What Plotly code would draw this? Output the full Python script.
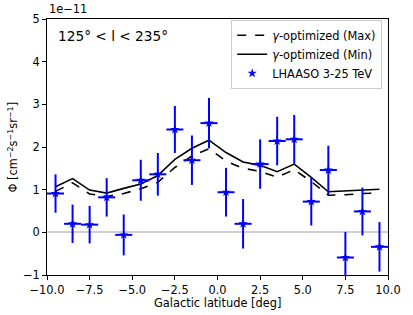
import plotly.graph_objects as go

# Data (flux in units of 1e-11 cm^-2 s^-1 sr^-1)
lat = [-9.5, -8.5, -7.5, -6.5, -5.5, -4.5, -3.5, -2.5, -1.5, -0.5,
       0.5, 1.5, 2.5, 3.5, 4.5, 5.5, 6.5, 7.5, 8.5, 9.5]
lhaaso = [0.91, 0.20, 0.18, 0.82, -0.06, 1.22, 1.36, 2.41, 1.69, 2.56,
          0.94, 0.20, 1.60, 2.14, 2.18, 0.72, 1.46, -0.59, 0.49, -0.34]
lhaaso_err = [0.45, 0.45, 0.44, 0.45, 0.48, 0.48, 0.50, 0.55, 0.58, 0.59,
              0.57, 0.58, 0.58, 0.57, 0.57, 0.56, 0.57, 0.60, 0.56, 0.58]
bin_half = [0.5] * 20
gamma_max = [0.96, 1.16, 0.90, 0.84, 0.91, 1.02, 1.17, 1.52, 1.79, 1.96,
             1.67, 1.50, 1.43, 1.29, 1.47, 1.19, 0.87, 0.88, 0.91, 0.92]
gamma_min = [1.07, 1.26, 0.99, 0.92, 1.03, 1.13, 1.33, 1.71, 1.97, 2.16,
             1.87, 1.65, 1.57, 1.42, 1.60, 1.29, 0.95, 0.97, 0.99, 1.01]

x_tickvals = [-10, -7.5, -5, -2.5, 0, 2.5, 5, 7.5, 10]
x_ticktext = ["\u221210.0", "\u22127.5", "\u22125.0", "\u22122.5", "0.0", "2.5", "5.0", "7.5", "10.0"]
y_tickvals = [-1, 0, 1, 2, 3, 4, 5]
y_ticktext = ["\u22121", "0", "1", "2", "3", "4", "5"]

FONT = "DejaVu Sans"
fig = go.Figure()

fig.add_trace(go.Scatter(
    x=lat, y=gamma_max, mode="lines", name="<i>\u03b3</i>-optimized (Max)",
    line=dict(color="black", width=1.6, dash="dash")))
fig.add_trace(go.Scatter(
    x=lat, y=gamma_min, mode="lines", name="<i>\u03b3</i>-optimized (Min)",
    line=dict(color="black", width=1.6)))
fig.add_trace(go.Scatter(
    x=lat, y=lhaaso, mode="markers", name="LHAASO 3-25 TeV",
    marker=dict(symbol="star", color="#0000ff", size=7, line=dict(width=0)),
    error_y=dict(type="data", array=lhaaso_err, color="#0000ff", thickness=2, width=0),
    error_x=dict(type="data", array=bin_half, color="#0000ff", thickness=2, width=0)))

axis_common = dict(
    showline=True, linecolor="black", linewidth=1, mirror=True,
    ticks="outside", ticklen=4, tickwidth=1, tickcolor="black",
    showgrid=False, tickfont=dict(family=FONT, size=11.4, color="black"),
)

fig.update_xaxes(range=[-10, 10], tickmode="array", tickvals=x_tickvals,
                 ticktext=x_ticktext, zeroline=False, **axis_common)
fig.update_yaxes(range=[-1, 5], tickmode="array", tickvals=y_tickvals,
                 ticktext=y_ticktext, zeroline=True, zerolinecolor="#cfcfcf",
                 zerolinewidth=1.5, **axis_common)

fig.add_annotation(text="Galactic latitude [deg]", xref="paper", yref="paper",
                   x=0.5, y=-0.11, xanchor="center", yanchor="middle",
                   showarrow=False, font=dict(family=FONT, size=11.4, color="black"))
fig.add_annotation(text="\u03a6 [cm<sup>\u22122</sup>s<sup>\u22121</sup>sr<sup>\u22121</sup>]",
                   xref="paper", yref="paper", x=-0.101, y=0.5, textangle=-90,
                   xanchor="center", yanchor="middle", showarrow=False,
                   font=dict(family=FONT, size=11.4, color="black"))
fig.add_annotation(text="1e\u221211", xref="paper", yref="paper", x=0, y=1.005,
                   xanchor="left", yanchor="bottom", showarrow=False,
                   font=dict(family=FONT, size=11.4, color="black"))
fig.add_annotation(text="125\u00b0 < l < 235\u00b0", xref="paper", yref="paper",
                   x=0.026, y=0.934, xanchor="left", yanchor="middle", showarrow=False,
                   font=dict(family=FONT, size=13.7, color="black"))

fig.update_layout(
    width=413, height=315,
    margin=dict(l=47, r=20, t=17, b=40),
    paper_bgcolor="white", plot_bgcolor="white",
    font=dict(family=FONT, size=11.4, color="black"),
    showlegend=True,
    legend=dict(x=0.983, y=0.997, xanchor="right", yanchor="top",
                bgcolor="rgba(255,255,255,0.8)", bordercolor="#cccccc", borderwidth=1,
                font=dict(family=FONT, size=11.4, color="black"),
                tracegroupgap=0, itemwidth=30),
)

fig.write_html("out.html", config={"displayModeBar": False},
               post_script="document.body.style.margin='0px';document.body.style.padding='0px';")
